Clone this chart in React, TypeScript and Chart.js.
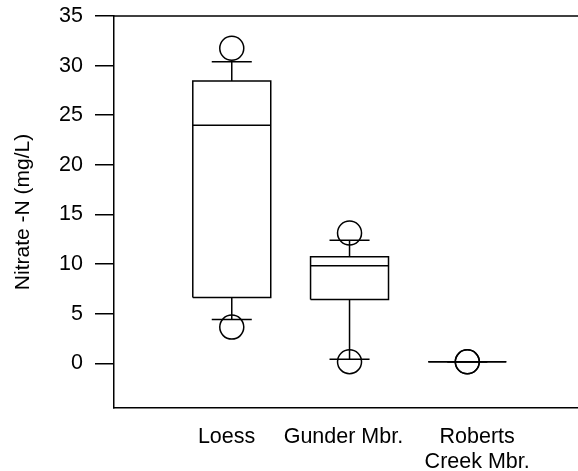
import React, { useEffect, useRef } from "react";
import { Chart, registerables } from "chart.js";

Chart.register(...registerables);

// ---- data ----
const categories: string[][] = [["Loess"], ["Gunder Mbr."], ["Roberts", "Creek Mbr."]];
const outlierHigh = [31.75, 13.14, 0.15];
const whiskerHigh = [30.4, 12.4, 0.15];
const q3 = [28.46, 10.73, 0.15];
const median = [24.0, 9.83, 0.15];
const q1 = [6.64, 6.44, 0.15];
const whiskerLow = [4.43, 0.4, 0.15];
const outlierLow = [3.65, 0.17, 0.15];
const yTicks = [0, 5, 10, 15, 20, 25, 30, 35];
const yTitle = "Nitrate -N (mg/L)";

// ---- style constants ----
const BOX_HALF = 0.331;
const CAP_HALF = 0.17;
const LABEL_NUDGE = [-0.044, -0.052, 0.084];
const FONT = "'Liberation Sans', Arial, Helvetica, sans-serif";
const FS = 21.5;
const LW = 1.5;

export default function App() {
  const ref = useRef<HTMLCanvasElement | null>(null);

  useEffect(() => {
    if (!ref.current) return;
    const seg = (pts: { x: number; y: number }[]) => ({
      type: "scatter" as const,
      data: pts,
      showLine: true,
      borderColor: "#000",
      borderWidth: LW,
      pointRadius: 0,
      fill: false,
    });
    const datasets: any[] = [];
    categories.forEach((_, i) => {
      datasets.push(
        seg([
          { x: i - BOX_HALF, y: q1[i] },
          { x: i + BOX_HALF, y: q1[i] },
          { x: i + BOX_HALF, y: q3[i] },
          { x: i - BOX_HALF, y: q3[i] },
          { x: i - BOX_HALF, y: q1[i] },
        ])
      );
      datasets.push(seg([{ x: i - BOX_HALF, y: median[i] }, { x: i + BOX_HALF, y: median[i] }]));
      datasets.push(seg([{ x: i, y: q3[i] }, { x: i, y: whiskerHigh[i] }]));
      datasets.push(seg([{ x: i - CAP_HALF, y: whiskerHigh[i] }, { x: i + CAP_HALF, y: whiskerHigh[i] }]));
      datasets.push(seg([{ x: i, y: q1[i] }, { x: i, y: whiskerLow[i] }]));
      datasets.push(seg([{ x: i - CAP_HALF, y: whiskerLow[i] }, { x: i + CAP_HALF, y: whiskerLow[i] }]));
    });
    datasets.push({
      type: "scatter",
      data: categories.flatMap((_, i) => [
        { x: i, y: outlierHigh[i] },
        { x: i, y: outlierLow[i] },
      ]),
      pointStyle: "circle",
      pointRadius: 12,
      pointBorderWidth: LW,
      pointBorderColor: "#000",
      pointBackgroundColor: "rgba(0,0,0,0)",
      showLine: false,
    });

    const topLine = {
      id: "topLine",
      afterDraw(chart: any) {
        const { ctx, chartArea } = chart;
        ctx.save();
        ctx.strokeStyle = "#000";
        ctx.lineWidth = 1.5;
        ctx.beginPath();
        ctx.moveTo(chartArea.left, chartArea.top);
        ctx.lineTo(chartArea.right, chartArea.top);
        ctx.stroke();
        ctx.restore();
      },
    };

    const chart = new Chart(ref.current, {
      type: "scatter",
      data: { datasets },
      plugins: [topLine],
      options: {
        animation: false,
        responsive: false,
        layout: { autoPadding: false, padding: { top: 16, left: 0, right: 0, bottom: 0 } },
        plugins: { legend: { display: false }, tooltip: { enabled: false } },
        scales: {
          x: {
            type: "linear",
            min: -1,
            max: 2.94,
            border: { display: true, color: "#000", width: 1.5 },
            grid: { display: false, drawTicks: false },
            afterBuildTicks: (s: any) => {
              s.ticks = categories.map((_, i) => ({ value: i + LABEL_NUDGE[i] }));
            },
            afterFit: (s: any) => {
              s.height = 63;
              s.paddingLeft = 0;
              s.paddingRight = 0;
            },
            ticks: {
              padding: 17,
              color: "#000",
              maxRotation: 0,
              autoSkip: false,
              font: { family: FONT, size: FS, lineHeight: 1.14 },
              callback: (_v: any, idx: number) => categories[idx],
            },
          },
          y: {
            type: "linear",
            min: -4.5,
            max: 35,
            border: { display: true, color: "#000", width: 1.5 },
            grid: { drawOnChartArea: false, drawTicks: true, tickLength: 19, color: "#000", lineWidth: 1.5 },
            afterBuildTicks: (s: any) => {
              s.ticks = yTicks.map((v) => ({ value: v }));
            },
            afterFit: (s: any) => {
              s.width = 114;
              s.paddingTop = 0;
              s.paddingBottom = 0;
            },
            ticks: {
              padding: 12,
              color: "#000",
              font: { family: FONT, size: FS, lineHeight: 1.2 },
            },
            title: {
              display: true,
              text: yTitle,
              color: "#000",
              padding: { top: 11, bottom: 0 },
              font: { family: FONT, size: 21, lineHeight: 1.2 },
            },
          },
        },
      },
    } as any);
    return () => chart.destroy();
  }, []);

  return (
    <div style={{ position: "absolute", left: 0, top: 0 }}>
      <canvas ref={ref} width={578} height={471} style={{ display: "block" }} />
    </div>
  );
}
